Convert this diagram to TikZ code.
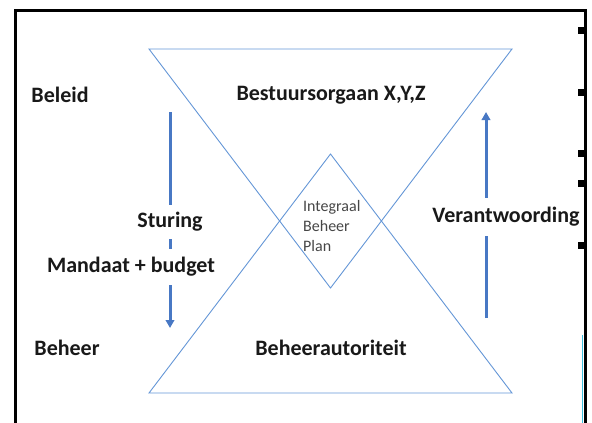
\documentclass[tikz,border=0pt]{standalone}
\usepackage{fontspec}
\setmainfont{Carlito}
\usetikzlibrary{arrows.meta}
\definecolor{tri}{RGB}{100,150,214}
\definecolor{arr}{RGB}{72,120,196}
\definecolor{diamtxt}{RGB}{70,70,70}
\definecolor{cy}{RGB}{60,190,220}
\tikzset{
  lbl/.style={font=\fontsize{22}{26}\selectfont\bfseries, inner sep=1pt, text=black!90},
  lblw/.style={lbl, fill=white, inner sep=3pt},
  triline/.style={draw=tri, line width=0.9pt, line join=miter},
  flow/.style={draw=arr, line width=3pt, -{Triangle[length=8pt,width=8.5pt]}},
  frame/.style={draw=black, line width=3pt},
  tick/.style={fill=black},
}
\begin{document}
\begin{tikzpicture}[x=1pt,y=-1pt]
\useasboundingbox (0,0) rectangle (592,423);
% frame
\draw[frame] (15,423) -- (15,10) -- (585,10) -- (585,423);
\foreach \yy in {30,92,153,183,245} \fill[tick] (578,\yy-3.5) rectangle (585,\yy+3.5);
\draw[cy, line width=1pt] (582.5,335) -- (582.5,423);
% hourglass
\coordinate (a1) at (149,49);
\coordinate (a2) at (512,49);
\coordinate (a3) at (330.5,288);
\coordinate (b1) at (149,393);
\coordinate (b2) at (512,393);
\coordinate (b3) at (330.5,154);
\draw[triline] (a1) -- (a2) -- (a3) -- cycle;
\draw[triline] (b1) -- (b2) -- (b3) -- cycle;
% arrows
\coordinate (s1) at (170,112);
\coordinate (s2) at (170,328);
\draw[flow] (s1) -- (s2);
\coordinate (v1) at (486,318);
\coordinate (v2) at (486,112);
\draw[flow] (v1) -- (v2);
% labels
\node[lbl] (beleid) at (60,95) {Beleid};
\node[lbl] (bestuur) at (331,95) {Bestuursorgaan X,Y,Z};
\node[lbl] (beheer) at (67,348) {Beheer};
\node[lbl] (autoriteit) at (331,348) {Beheerautoriteit};
\node[lblw, minimum height=34pt] (sturing) at (170,222) {Sturing};
\node[lblw, minimum height=36pt] (mandaat) at (131,267) {Mandaat + budget};
\node[lblw, minimum height=38pt] (verant) at (506,217) {Verantwoording};
\node[font=\fontsize{16}{20}\selectfont, text=diamtxt, align=left, anchor=north west, inner sep=0pt] (ibp) at (303,200) {Integraal\\Beheer\\Plan};
\end{tikzpicture}
\end{document}
